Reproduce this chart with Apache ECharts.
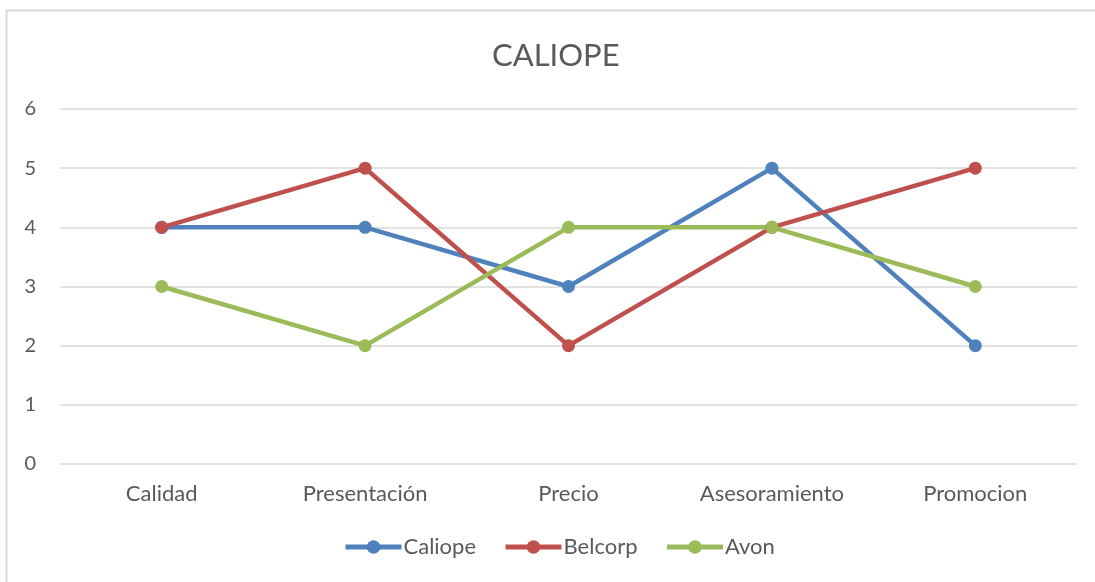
<!DOCTYPE html>
<html>
<head>
<meta charset="utf-8">
<script src="https://cdn.jsdelivr.net/npm/echarts@6/dist/echarts.min.js"></script>
<style>html,body{margin:0;padding:0;background:#fff}#main{width:1095px;height:582px}</style>
</head>
<body>
<div id="main"></div>
<script>
var myChart = echarts.init(document.getElementById('main'));

var categories = ['Calidad', 'Presentación', 'Precio', 'Asesoramiento', 'Promocion'];
var caliope = [4, 4, 3, 5, 2];
var belcorp = [4, 5, 2, 4, 5];
var avon = [3, 2, 4, 4, 3];
var seriesNames = ['Caliope', 'Belcorp', 'Avon'];
var colors = ['#4f81bd', '#c0504d', '#9bbb59'];

var font = 'Lato';
var seriesArr = [];
[caliope, belcorp, avon].forEach(function (values, i) {
	seriesArr.push({
		name: seriesNames[i],
		type: 'line',
		data: values,
		symbol: 'circle',
		symbolSize: 13,
		color: colors[i],
		lineStyle: { width: 4.5, color: colors[i] },
		itemStyle: { color: colors[i] },
		emphasis: { disabled: true },
		animation: false
	});
});

// the chart area runs past the right edge of the picture, so title and legend sit a bit right of centre
var option = {
	backgroundColor: '#fff',
	title: {
		text: 'CALIOPE',
		left: 487,
		top: 35,
		textStyle: { color: '#595959', fontSize: 31, fontWeight: 'normal', fontFamily: font }
	},
	graphic: [{
		type: 'rect',
		shape: { x: 6.5, y: 10.5, width: 3000, height: 3000 },
		style: { fill: 'none', stroke: '#d9d9d9', lineWidth: 2 },
		silent: true
	}],
	legend: {
		bottom: 19,
		left: 338,
		itemWidth: 56,
		itemHeight: 17,
		itemGap: 27,
		lineStyle: { width: 5 },
		textStyle: { color: '#595959', fontSize: 22, fontFamily: font, padding: [0, 0, 0, -3] },
		data: seriesNames
	},
	grid: { left: 60, right: 18, top: 109, bottom: 118 },
	xAxis: {
		type: 'category',
		data: categories,
		boundaryGap: true,
		axisLine: { show: false },
		axisTick: { show: false },
		axisLabel: { color: '#595959', fontSize: 22, fontFamily: font, margin: 19 }
	},
	yAxis: {
		type: 'value',
		min: 0,
		max: 6,
		interval: 1,
		axisLine: { show: false },
		axisTick: { show: false },
		axisLabel: { color: '#595959', fontSize: 20, fontFamily: font, margin: 24 },
		splitLine: { lineStyle: { color: '#d9d9d9', width: 1.5 } }
	},
	series: seriesArr
};
myChart.setOption(option);
</script>
</body>
</html>
